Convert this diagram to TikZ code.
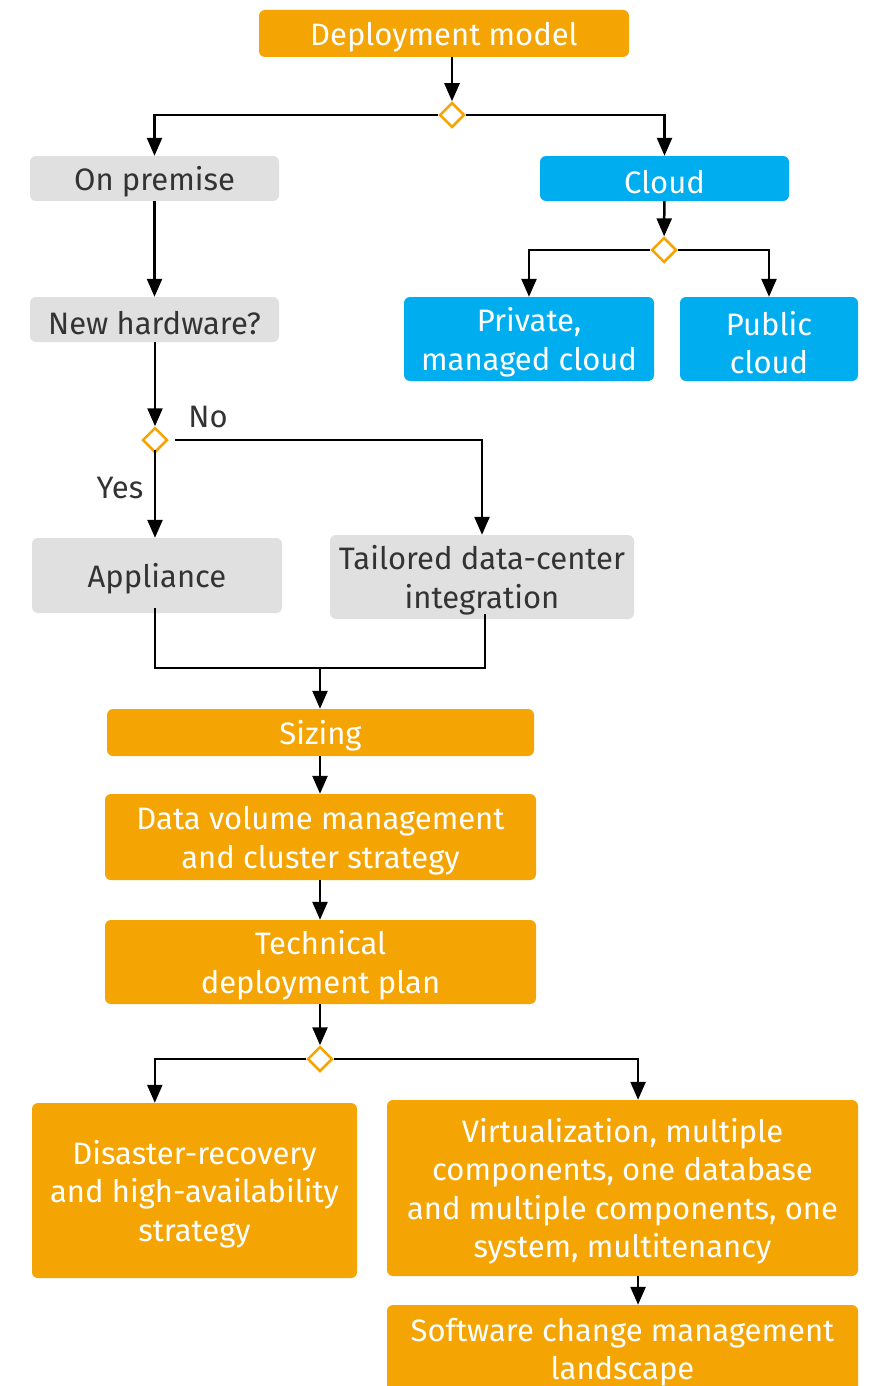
\documentclass[tikz,border=0pt]{standalone}
\usepackage{fontspec}
\setmainfont{Fira Sans}
\usetikzlibrary{arrows.meta,shapes.geometric,calc}
\definecolor{sapor}{HTML}{F5A503}
\definecolor{sapbl}{HTML}{00AEEF}
\definecolor{sapgr}{HTML}{E0E0E0}
\definecolor{txtgr}{HTML}{333333}
\newcommand{\bfnt}{\fontsize{31}{38.5}\selectfont}
\newcommand{\tstr}{\rule{0pt}{31pt}}
\tikzset{
  box/.style={rounded corners=6pt, inner sep=0pt, align=center, font=\bfnt},
  orbox/.style={box, fill=sapor, text=white},
  blbox/.style={box, fill=sapbl, text=white},
  grbox/.style={box, fill=sapgr, text=txtgr},
  dia/.style={diamond, draw=sapor, fill=white, line width=2.5pt, minimum size=25pt, inner sep=0pt},
  arr/.style={line width=2.5pt, -{Triangle[length=18pt,width=15pt]}},
  ln/.style={line width=2.5pt},
  lbl/.style={text=txtgr, font=\bfnt, inner sep=0pt}
}
\begin{document}
\begin{tikzpicture}[x=1pt,y=-1pt]
\useasboundingbox (0,0) rectangle (870,1386);
\clip (0,0) rectangle (870,1386);
\fill[white] (0,0) rectangle (870,1386);
% nodes
\node[orbox, minimum width=370pt, minimum height=47pt] (dm) at (444,33.5) {\tstr Deployment model};
\node[dia] (d1) at (452,115) {};
\node[grbox, minimum width=249pt, minimum height=45pt] (onp) at (154.5,178.5) {\tstr On premise};
\node[blbox, minimum width=249pt, minimum height=45pt] (cloud) at (664.5,178.5) {\tstr Cloud};
\node[dia] (d2) at (664,250) {};
\node[blbox, minimum width=250pt, minimum height=84pt] (priv) at (529,339) {\tstr Private,\\managed cloud};
\node[blbox, minimum width=178pt, minimum height=84pt] (pub) at (769,339) {\tstr Public\\cloud};
\node[grbox, minimum width=249pt, minimum height=45pt] (nh) at (154.5,319.5) {\tstr New hardware?};
\node[dia] (d3) at (155,440) {};
\node[lbl] (no) at (208,417) {No};
\node[lbl] (yes) at (120,488) {Yes};
\node[grbox, minimum width=250pt, minimum height=75pt] (app) at (157,575.5) {\tstr Appliance};
\node[grbox, minimum width=304pt, minimum height=84pt] (tail) at (482,577) {\tstr Tailored data-center\\integration};
\coordinate (m) at (320,668);
\node[orbox, minimum width=427pt, minimum height=47pt] (siz) at (320.5,732.5) {\tstr Sizing};
\node[orbox, minimum width=431pt, minimum height=86pt] (dv) at (320.5,837) {\tstr Data volume management\\and cluster strategy};
\node[orbox, minimum width=431pt, minimum height=84pt] (tdp) at (320.5,962) {\tstr Technical\\deployment plan};
\node[dia] (d4) at (320,1059) {};
\node[orbox, minimum width=325pt, minimum height=175pt] (dr) at (194.5,1190.5) {\tstr Disaster-recovery\\and high-availability\\strategy};
\node[orbox, minimum width=471pt, minimum height=176pt] (virt) at (622.5,1188) {\tstr Virtualization, multiple\\components, one database\\and multiple components, one\\system, multitenancy};
\node[orbox, minimum width=471pt, minimum height=100pt] (scm) at (622.5,1355) {};
\node[text=white, font=\bfnt, align=center, inner sep=0pt] (scmt) at (622.5,1352) {Software change management\\landscape};
% connectors
\draw[arr] (dm.south -| d1) -- (d1);
\draw[arr] (d1.west) -| (onp.north);
\draw[arr] (d1.east) -| (cloud.north);
\draw[arr] (cloud) -- (d2);
\draw[arr] (d2.west) -| (priv.north);
\draw[arr] (d2.east) -| (pub.north);
\draw[arr] (onp) -- (nh);
\draw[arr] (nh.south -| d3) -- (d3);
\draw[arr] ([xshift=6pt]d3.east) -| (tail.north);
\draw[arr] ([yshift=4pt]d3.south) -- (app.north -| d3);
\draw[ln] ([yshift=5pt]app.south -| d3) |- (m) -| ([yshift=5pt,xshift=3pt]tail.south);
\draw[arr] (m) -- (siz.north -| m);
\draw[arr] (siz.south -| m) -- (dv.north -| m);
\draw[arr] (dv.south -| m) -- (tdp.north -| m);
\draw[arr] (tdp.south -| d4) -- (d4);
\draw[arr] (d4.west) -| ($(dr.north west)!0.378!(dr.north east)$);
\draw[arr] (d4.east) -| ($(virt.north west)!0.533!(virt.north east)$);
\draw[arr] ($(virt.south west)!0.533!(virt.south east)$) -- ($(scm.north west)!0.533!(scm.north east)$);
\end{tikzpicture}
\end{document}
